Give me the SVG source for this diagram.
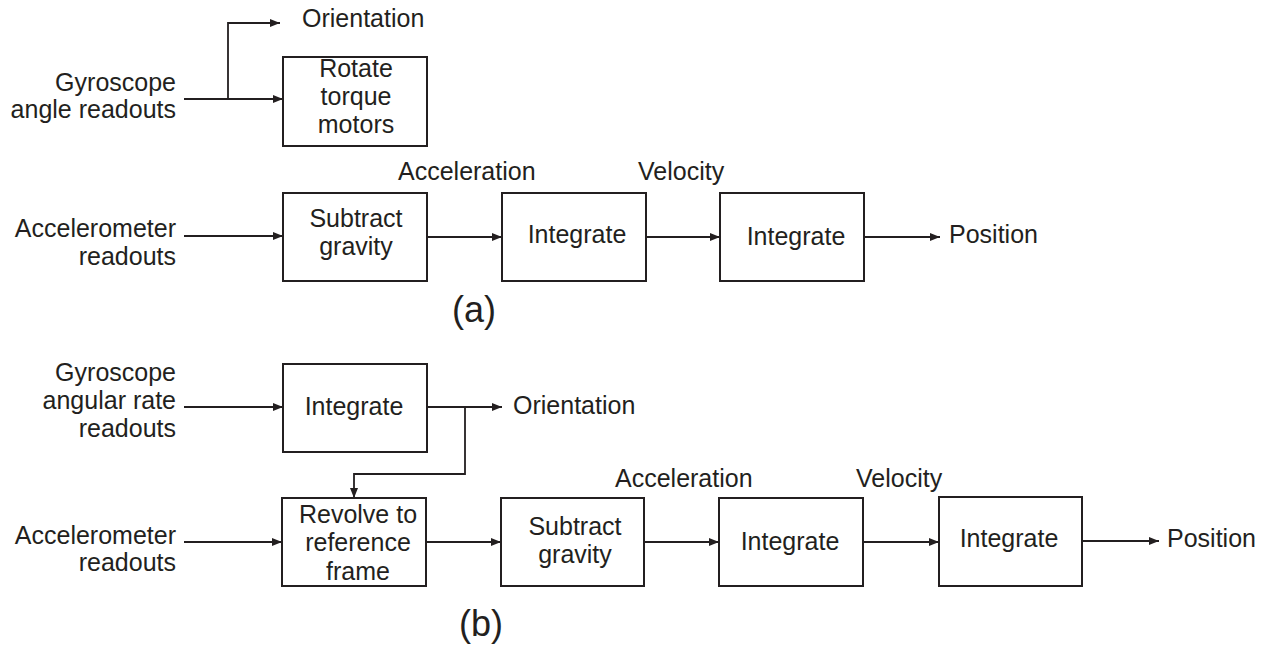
<svg xmlns="http://www.w3.org/2000/svg" width="1268" height="648" viewBox="0 0 1268 648">
  <style>
    .box { fill: #ffffff; stroke: #231f20; stroke-width: 2; }
    .wire { fill: none; stroke: #231f20; stroke-width: 1.8; }
    .arrow { marker-end: url(#head); }
    text { font-family: "Liberation Sans", Arial, sans-serif; font-size: 25px; fill: #231f20; }
    .c { text-anchor: middle; }
    .r { text-anchor: end; }
    .cap { font-size: 36px; text-anchor: middle; }
  </style>
  <defs>
    <marker id="head" markerUnits="userSpaceOnUse" markerWidth="12" markerHeight="10" refX="10" refY="4" orient="auto">
      <path d="M0,0 L10,4 L0,8 Z" fill="#231f20"/>
    </marker>
  </defs>
  <rect width="1268" height="648" fill="#ffffff"/>

  <!-- connectors -->
  <g id="connectors">
    <!-- (a) gyroscope angle branch -->
    <path class="wire arrow" d="M184,99 L283,99"/>
    <path class="wire arrow" d="M228,99 L228,23 L280,23"/>
    <!-- (a) accelerometer chain -->
    <path class="wire arrow" d="M184,236 L283,236"/>
    <path class="wire arrow" d="M427,237 L502,237"/>
    <path class="wire arrow" d="M646,237 L720,237"/>
    <path class="wire arrow" d="M864,237 L940,237"/>
    <!-- (b) gyroscope rate chain -->
    <path class="wire arrow" d="M184,407 L283,407"/>
    <path class="wire arrow" d="M427,407 L502,407"/>
    <path class="wire arrow" d="M465,407 L465,474 L354,474 L354,498"/>
    <!-- (b) accelerometer chain -->
    <path class="wire arrow" d="M184,542 L282,542"/>
    <path class="wire arrow" d="M426,542 L501,542"/>
    <path class="wire arrow" d="M644,542 L719,542"/>
    <path class="wire arrow" d="M863,542 L939,542"/>
    <path class="wire arrow" d="M1082,541 L1159,541"/>
  </g>

  <!-- (a) nodes -->
  <g id="a-gyro-in">
    <text class="r" x="176" y="91">Gyroscope</text>
    <text class="r" x="176" y="118">angle readouts</text>
  </g>
  <g id="a-orientation">
    <text x="302" y="27">Orientation</text>
  </g>
  <g id="a-rotate">
    <rect class="box" x="283" y="57" width="144" height="89"/>
    <text class="c" x="356" y="77">Rotate</text>
    <text class="c" x="356" y="105">torque</text>
    <text class="c" x="356" y="133">motors</text>
  </g>
  <g id="a-accel-in">
    <text class="r" x="176" y="237">Accelerometer</text>
    <text class="r" x="176" y="265">readouts</text>
  </g>
  <g id="a-subtract">
    <rect class="box" x="283" y="193" width="144" height="88"/>
    <text class="c" x="356" y="227">Subtract</text>
    <text class="c" x="356" y="255">gravity</text>
  </g>
  <g id="a-integrate1">
    <rect class="box" x="502" y="193" width="144" height="88"/>
    <text class="c" x="577" y="243">Integrate</text>
  </g>
  <g id="a-integrate2">
    <rect class="box" x="720" y="193" width="144" height="88"/>
    <text class="c" x="796" y="245">Integrate</text>
  </g>
  <g id="a-labels">
    <text x="398" y="180">Acceleration</text>
    <text x="638" y="180">Velocity</text>
    <text x="949" y="243">Position</text>
    <text class="cap" x="474" y="322">(a)</text>
  </g>

  <!-- (b) nodes -->
  <g id="b-gyro-in">
    <text class="r" x="176" y="381">Gyroscope</text>
    <text class="r" x="176" y="409">angular rate</text>
    <text class="r" x="176" y="437">readouts</text>
  </g>
  <g id="b-integrate0">
    <rect class="box" x="283" y="364" width="144" height="88"/>
    <text class="c" x="354" y="415">Integrate</text>
  </g>
  <g id="b-orientation">
    <text x="513" y="414">Orientation</text>
  </g>
  <g id="b-accel-in">
    <text class="r" x="176" y="544">Accelerometer</text>
    <text class="r" x="176" y="571">readouts</text>
  </g>
  <g id="b-revolve">
    <rect class="box" x="282" y="498" width="144" height="88"/>
    <text class="c" x="358" y="523">Revolve to</text>
    <text class="c" x="358" y="551">reference</text>
    <text class="c" x="358" y="580">frame</text>
  </g>
  <g id="b-subtract">
    <rect class="box" x="501" y="498" width="143" height="88"/>
    <text class="c" x="575" y="535">Subtract</text>
    <text class="c" x="575" y="563">gravity</text>
  </g>
  <g id="b-integrate1">
    <rect class="box" x="719" y="498" width="144" height="88"/>
    <text class="c" x="790" y="550">Integrate</text>
  </g>
  <g id="b-integrate2">
    <rect class="box" x="939" y="497" width="143" height="89"/>
    <text class="c" x="1009" y="547">Integrate</text>
  </g>
  <g id="b-labels">
    <text x="615" y="487">Acceleration</text>
    <text x="856" y="487">Velocity</text>
    <text x="1167" y="547">Position</text>
    <text class="cap" x="481" y="636">(b)</text>
  </g>
</svg>
